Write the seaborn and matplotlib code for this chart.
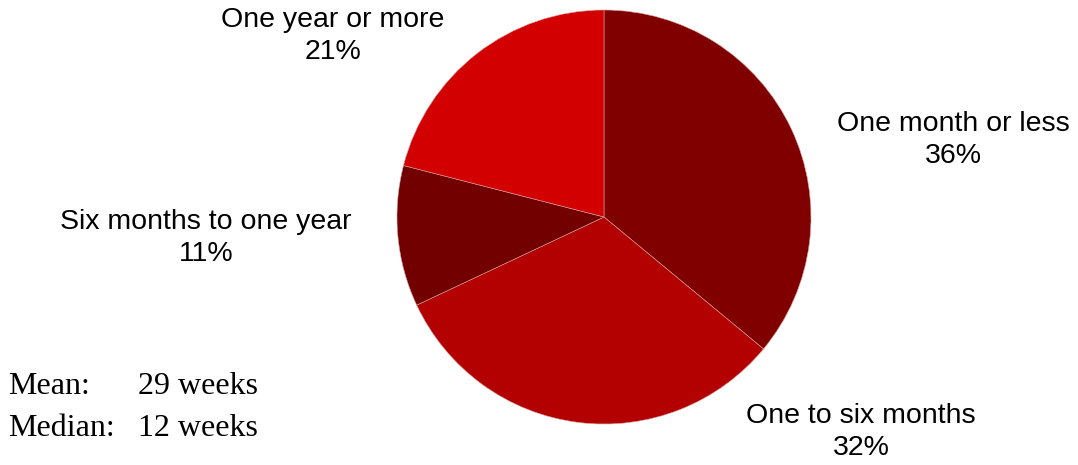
import matplotlib
matplotlib.use("Agg")
import matplotlib.pyplot as plt
import seaborn as sns

# Time spent, share of respondents
categories = ["One month or less", "One to six months", "Six months to one year", "One year or more"]
shares = [36, 32, 11, 21]
colors = ["#800000", "#B30000", "#720000", "#D20000"]

# Label anchor points (figure pixels, centre of the two-line label)
label_xy = [(953, 140), (861, 432), (206, 238), (333, 36)]

summary_names = ["Mean:", "Median:"]
summary_values = ["29 weeks", "12 weeks"]

sns.set_theme(style="white")
plt.rcParams["font.family"] = ["Liberation Sans", "DejaVu Sans"]

W, H = 1078, 465
fig = plt.figure(figsize=(W / 100, H / 100), dpi=100)
fig.patch.set_facecolor("white")

cx, cy, r = 604, 217, 207
ax = fig.add_axes([(cx - r) / W, (H - cy - r) / H, 2 * r / W, 2 * r / H])
ax.pie(shares, colors=colors, startangle=90, counterclock=False,
       wedgeprops=dict(edgecolor="#d8a0a0", linewidth=0.4))
ax.set_xlim(-1, 1)
ax.set_ylim(-1, 1)
ax.set_aspect("equal")
ax.axis("off")

for name, val, (x, y) in zip(categories, shares, label_xy):
    fig.text(x / W, 1 - y / H, f"{name}\n{val}%", ha="center", va="center",
             fontsize=20.5, color="black", linespacing=1.32)

serif = ["Liberation Serif", "DejaVu Serif"]
for i, (n, v) in enumerate(zip(summary_names, summary_values)):
    yy = 1 - (386 + i * 42) / H
    fig.text(8 / W, yy, n, ha="left", va="center", fontsize=23,
             family=serif, color="black")
    fig.text(138 / W, yy, v, ha="left", va="center", fontsize=23,
             family=serif, color="black")

fig.savefig("out.png", dpi=100, facecolor="white")
